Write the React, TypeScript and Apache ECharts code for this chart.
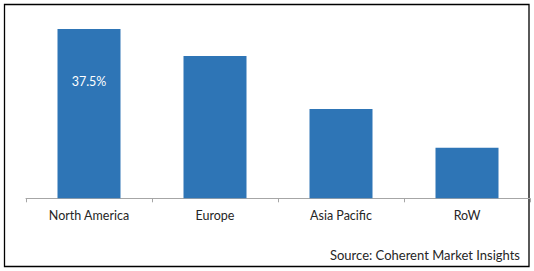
import React, { useEffect, useRef } from "react";
import * as echarts from "echarts";

const categories = ["North America", "Europe", "Asia Pacific", "RoW"];
const shares = [37.5, 31.5, 19.8, 11.2];
const labelledIndex = 0;
const sourceText = "Source: Coherent Market Insights";

export default function App() {
  const ref = useRef<HTMLDivElement>(null);
  useEffect(() => {
    document.body.style.margin = "0";
    const chart = echarts.init(ref.current!, null, { renderer: "svg" });
    chart.setOption({
      animation: false,
      backgroundColor: "#ffffff",
      textStyle: { fontFamily: "Lato" },
      grid: { left: 26, right: 4, top: 17.7, bottom: 72.7 },
      xAxis: {
        type: "category",
        data: categories,
        boundaryGap: true,
        axisLine: { lineStyle: { color: "#a6a6a6", width: 1 } },
        axisTick: { show: true, length: 4, lineStyle: { color: "#a6a6a6" } },
        axisLabel: { color: "#262626", fontSize: 12.5, fontFamily: "Lato", margin: 11 },
      },
      yAxis: {
        type: "value",
        min: 0,
        max: 40,
        show: false,
        splitLine: { show: false },
      },
      series: [
        {
          type: "bar",
          data: shares.map((v, i) => ({
            value: v,
            label: {
              show: i === labelledIndex,
              position: "insideTop",
              distance: 46,
              formatter: (p: any) => p.value + "%",
              color: "#ffffff",
              fontSize: 12.5,
              fontFamily: "Lato",
            },
          })),
          barWidth: "50%",
          itemStyle: { color: "#2E75B6" },
        },
      ],
      graphic: [
        {
          type: "rect",
          shape: { x: 4.5, y: 4.5, width: 524.5, height: 262 },
          style: { fill: "none", stroke: "#000000", lineWidth: 1.3 },
          silent: true,
        },
        {
          type: "text",
          right: 14,
          top: 248,
          style: { text: sourceText, fill: "#262626", font: "13px Lato" },
        },
      ],
    });
    return () => chart.dispose();
  }, []);
  return <div ref={ref} style={{ width: 534, height: 271 }} />;
}
